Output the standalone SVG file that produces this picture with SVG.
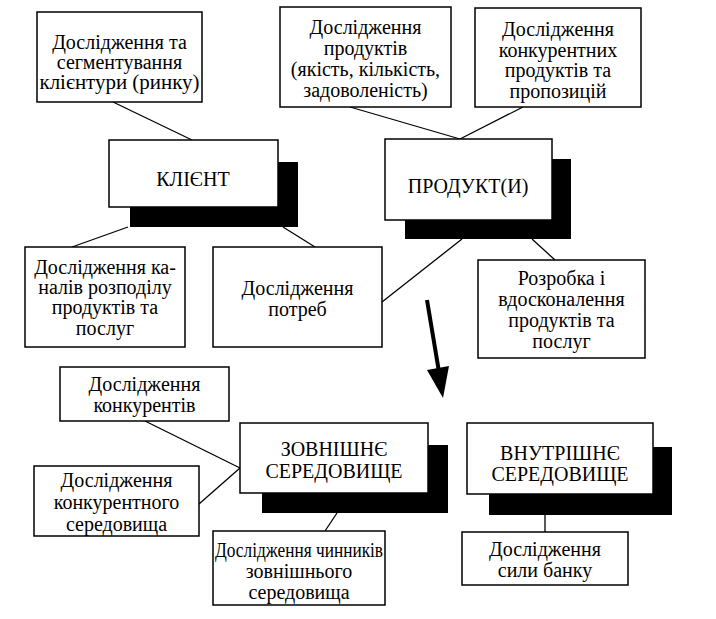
<svg xmlns="http://www.w3.org/2000/svg" width="716" height="619" viewBox="0 0 716 619">
<style>
.box{fill:#fff;stroke:#000;stroke-width:1.5}
.sh{fill:#000}
.t{font-family:'Liberation Serif','Times New Roman',serif;font-size:20px;fill:#000;text-anchor:middle}
.c{stroke:#000;stroke-width:1.3;fill:none}
</style>
<rect width="716" height="619" fill="#fff"/>
<g id="connectors">
<line class="c" x1="113" y1="102" x2="192" y2="140"/>
<line class="c" x1="350" y1="107" x2="460" y2="139"/>
<line class="c" x1="523" y1="107" x2="460" y2="139"/>
<line class="c" x1="128" y1="227" x2="72" y2="247"/>
<line class="c" x1="283" y1="227" x2="315" y2="247"/>
<line class="c" x1="382" y1="302" x2="462" y2="239"/>
<line class="c" x1="532" y1="239" x2="555" y2="260"/>
<line class="c" x1="145" y1="421" x2="240" y2="468"/>
<line class="c" x1="199" y1="504" x2="240" y2="468"/>
<line class="c" x1="337" y1="513" x2="325" y2="531"/>
<line class="c" x1="545" y1="515" x2="545" y2="532"/>
<line x1="427" y1="300" x2="439" y2="372" stroke="#000" stroke-width="4"/>
<polygon points="427,370 449,366 443,398" fill="#000"/>
</g>
<g id="n-segment">
<rect class="box" x="37" y="12" width="165" height="90"/>
<text class="t" x="119.5" y="49"><tspan x="119.5">Дослідження та</tspan><tspan x="119.5" dy="20">сегментування</tspan><tspan x="119.5" dy="20" textLength="160" lengthAdjust="spacingAndGlyphs">клієнтури (ринку)</tspan></text>
</g>
<g id="n-products">
<rect class="box" x="280" y="7" width="171" height="100"/>
<text class="t" x="365.5" y="34"><tspan x="365.5">Дослідження</tspan><tspan x="365.5" dy="21">продуктів</tspan><tspan x="365.5" dy="21">(якість, кількість,</tspan><tspan x="365.5" dy="21">задоволеність)</tspan></text>
</g>
<g id="n-competing">
<rect class="box" x="475" y="8" width="166" height="99"/>
<text class="t" x="558" y="36"><tspan x="558">Дослідження</tspan><tspan x="558" dy="20.5">конкурентних</tspan><tspan x="558" dy="20.5">продуктів та</tspan><tspan x="558" dy="20.5">пропозицій</tspan></text>
</g>
<g id="n-client">
<rect class="sh" x="130" y="162" width="168" height="65"/>
<rect class="box" x="109" y="140" width="169" height="67"/>
<text class="t" x="193" y="186">КЛІЄНТ</text>
</g>
<g id="n-product">
<rect class="sh" x="405" y="159" width="166" height="80"/>
<rect class="box" x="385" y="139" width="167" height="81"/>
<text class="t" x="468" y="193">ПРОДУКТ(И)</text>
</g>
<g id="n-channels">
<rect class="box" x="25" y="247" width="160" height="100"/>
<text class="t" x="105" y="274"><tspan x="105">Дослідження ка-</tspan><tspan x="105" dy="20">налів розподілу</tspan><tspan x="105" dy="20">продуктів та</tspan><tspan x="105" dy="20.5">послуг</tspan></text>
</g>
<g id="n-needs">
<rect class="box" x="213" y="247" width="169" height="100"/>
<text class="t" x="297.5" y="295"><tspan x="297.5">Дослідження</tspan><tspan x="297.5" dy="21">потреб</tspan></text>
</g>
<g id="n-develop">
<rect class="box" x="478" y="260" width="167" height="98"/>
<text class="t" x="561.5" y="285"><tspan x="561.5">Розробка і</tspan><tspan x="561.5" dy="21">вдосконалення</tspan><tspan x="561.5" dy="21">продуктів та</tspan><tspan x="561.5" dy="20.5">послуг</tspan></text>
</g>
<g id="n-competitors">
<rect class="box" x="60" y="367" width="169" height="54"/>
<text class="t" x="144.5" y="391"><tspan x="144.5">Дослідження</tspan><tspan x="144.5" dy="21">конкурентів</tspan></text>
</g>
<g id="n-external">
<rect class="sh" x="262" y="445" width="186" height="68"/>
<rect class="box" x="240" y="423" width="188" height="70"/>
<text class="t" x="334" y="456"><tspan x="334">ЗОВНІШНЄ</tspan><tspan x="334" dy="22">СЕРЕДОВИЩЕ</tspan></text>
</g>
<g id="n-compenv">
<rect class="box" x="34" y="466" width="165" height="70"/>
<text class="t" x="116.5" y="487"><tspan x="116.5">Дослідження</tspan><tspan x="116.5" dy="22">конкурентного</tspan><tspan x="116.5" dy="22">середовища</tspan></text>
</g>
<g id="n-factors">
<rect class="box" x="213" y="531" width="172" height="74"/>
<text class="t" x="299" y="557"><tspan x="299" textLength="168" lengthAdjust="spacingAndGlyphs">Дослідження чинників</tspan><tspan x="299" dy="21">зовнішнього</tspan><tspan x="299" dy="21">середовища</tspan></text>
</g>
<g id="n-internal">
<rect class="sh" x="489" y="447" width="183" height="68"/>
<rect class="box" x="467" y="423" width="186" height="71"/>
<text class="t" x="560" y="460"><tspan x="560">ВНУТРІШНЄ</tspan><tspan x="560" dy="21">СЕРЕДОВИЩЕ</tspan></text>
</g>
<g id="n-strength">
<rect class="box" x="462" y="532" width="166" height="53"/>
<text class="t" x="545" y="556"><tspan x="545">Дослідження</tspan><tspan x="545" dy="21">сили банку</tspan></text>
</g>
</svg>
